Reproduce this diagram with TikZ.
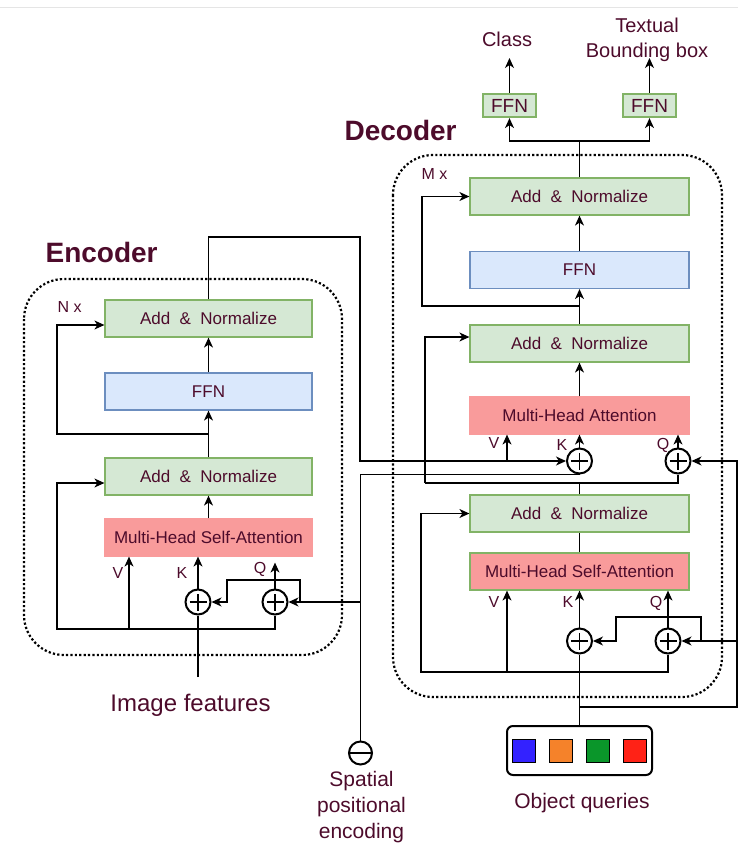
\documentclass[tikz,border=0pt]{standalone}
\usepackage{fontspec}
\setmainfont{Liberation Sans}
\usetikzlibrary{arrows.meta}

\definecolor{txtred}{HTML}{4D0B2B}
\definecolor{addfill}{HTML}{D5E8D4}
\definecolor{adddraw}{HTML}{82B366}
\definecolor{ffnfill}{HTML}{DAE8FC}
\definecolor{ffndraw}{HTML}{6C8EBF}
\definecolor{attfill}{HTML}{F99B9B}
\definecolor{qblue}{HTML}{3322FF}
\definecolor{qorange}{HTML}{F5822A}
\definecolor{qgreen}{HTML}{0A962A}
\definecolor{qred}{HTML}{FF2216}

\newcommand{\pxsize}[2]{\fontsize{#1}{#2}\selectfont}

\begin{document}
\begin{tikzpicture}[x=1pt, y=-1pt, line width=1.2pt,
    >={Stealth[length=10pt,width=9pt,inset=3pt]},
    block/.style={draw, line width=1.2pt, minimum height=37pt, inner sep=0pt, text=txtred, font=\pxsize{17}{20}},
    enc/.style={minimum width=207pt},
    dec/.style={minimum width=219pt},
    addnorm/.style={block, fill=addfill, draw=adddraw},
    ffn/.style={block, fill=ffnfill, draw=ffndraw},
    attn/.style={block, fill=attfill, draw=attfill},
    headffn/.style={draw=adddraw, fill=addfill, line width=2.2pt, minimum width=53pt, minimum height=23pt, inner sep=0pt, text=txtred, font=\pxsize{19}{22}},
    sumnode/.style={circle, draw, line width=2pt, minimum size=25pt, inner sep=0pt,
        path picture={
            \draw[line width=1.1pt] ([xshift=-8.5pt]path picture bounding box.center) -- ([xshift=8.5pt]path picture bounding box.center);
            \draw[line width=1.1pt] ([yshift=-8.5pt]path picture bounding box.center) -- ([yshift=8.5pt]path picture bounding box.center);
        }},
    posnode/.style={circle, draw, line width=2pt, minimum size=23pt, inner sep=0pt,
        path picture={
            \draw[line width=1.1pt] (path picture bounding box.west) -- (path picture bounding box.east);
        }},
    qsq/.style={draw, line width=1.6pt, minimum size=23pt, inner sep=0pt},
    frame/.style={line width=2.2pt, dash pattern=on 2.2pt off 2.2pt, rounded corners=40pt},
    lbl/.style={inner sep=0pt, text=txtred, font=\pxsize{16}{19}}]

\useasboundingbox (0,0) rectangle (738,849);
\draw[black!10, line width=1pt] (0,7) -- (738,7);

% dotted frames round the stacks
\draw[frame] (24,279) rectangle (342,655);
\draw[frame] (393,155) rectangle (722,697);

\node[lbl, font=\pxsize{28}{32}\bfseries, anchor=base west] (EncTitle) at (45,262) {Encoder};
\node[lbl, font=\pxsize{28}{32}\bfseries, anchor=base west] (DecTitle) at (344,140) {Decoder};
\node[lbl, anchor=base west] (EncRepeat) at (57,312) {N x};
\node[lbl, anchor=base west] (DecRepeat) at (421,179) {M x};

% Encoder layer
\node[addnorm, enc] (EncAddNorm2) at (208.5,318.5) {Add~~\&~~Normalize};
\node[ffn, enc] (EncFFN) at (208.5,391.5) {FFN};
\node[addnorm, enc] (EncAddNorm1) at (208.5,476.5) {Add~~\&~~Normalize};
\node[attn, enc] (EncMHSA) at (208.5,537.5) {Multi-Head Self-Attention};
\node[sumnode] (EncK) at (198,602) {};
\node[sumnode] (EncQ) at (275,602) {};
\node[lbl, anchor=base] (EncVLbl) at (118,578) {V};
\node[lbl, anchor=base] (EncKLbl) at (182,578) {K};
\node[lbl, anchor=base] (EncQLbl) at (260,573) {Q};
\coordinate (EncV) at (129,629);
\coordinate (EncRes1) at (57,629);
\coordinate (EncRes2) at (57,434);
\coordinate (EncPosTap) at (300,602);
\coordinate (EncLoop) at (227,580);
\coordinate (EncOut) at (360,237);
\coordinate (ImgIn) at (198,677);
\node[lbl, font=\pxsize{24}{28}, anchor=base] (ImgFeat) at (190.5,711) {Image features};

% Decoder layer
\node[addnorm, dec] (DecAddNorm3) at (579.5,196.5) {Add~~\&~~Normalize};
\node[ffn, dec] (DecFFN) at (579.5,270) {FFN};
\node[addnorm, dec] (DecAddNorm2) at (579.5,343.5) {Add~~\&~~Normalize};
\node[attn, dec] (DecMHA) at (579.5,415.5) {Multi-Head Attention};
\node[addnorm, dec] (DecAddNorm1) at (579.5,513.5) {Add~~\&~~Normalize};
\node[attn, dec, draw=adddraw] (DecMHSA) at (579.5,571.5) {Multi-Head Self-Attention};
\node[sumnode] (DecK2) at (579.5,461) {};
\node[sumnode] (DecQ2) at (678,461) {};
\node[sumnode] (DecK1) at (579.5,641) {};
\node[sumnode] (DecQ1) at (668,641) {};
\node[lbl, anchor=base] (DecVLbl2) at (494,448) {V};
\node[lbl, anchor=base] (DecKLbl2) at (562,450) {K};
\node[lbl, anchor=base] (DecQLbl2) at (663,449) {Q};
\node[lbl, anchor=base] (DecVLbl1) at (494,607) {V};
\node[lbl, anchor=base] (DecKLbl1) at (568,607) {K};
\node[lbl, anchor=base] (DecQLbl1) at (656,607) {Q};
\coordinate (DecV2) at (507,461);
\coordinate (DecV1) at (507,672);
\coordinate (DecRes1) at (421,672);
\coordinate (DecRes2) at (425,483);
\coordinate (DecRes3) at (422,306);
\coordinate (DecPosTap) at (701,641);
\coordinate (DecLoop) at (616,617);

% prediction heads
\coordinate (HeadTap) at (579.5,141);
\node[headffn] (ClassFFN) at (509.5,105.5) {FFN};
\node[headffn] (BoxFFN) at (649.5,105.5) {FFN};
\coordinate (ClassOut) at (509.5,58);
\coordinate (BoxOut) at (649.5,58);
\node[lbl, font=\pxsize{20}{25}, anchor=base] (ClassLbl) at (507,46) {Class};
\node[lbl, font=\pxsize{20}{25}, align=center] (BoxLbl) at (647,40) {Textual\\Bounding box};

% inputs
\node[posnode] (PosEnc) at (360.5,753) {};
\node[lbl, font=\pxsize{21}{26}, align=center] (PosLbl) at (361.5,807.5) {Spatial\\positional\\encoding};
\node[draw, line width=2pt, rounded corners=6pt, minimum width=145pt, minimum height=49pt] (ObjQ) at (579.5,750.5) {};
\foreach \c [count=\i] in {qblue,qorange,qgreen,qred}
    \node[qsq, fill=\c] (Qry\i) at (487+37*\i,751) {};
\node[lbl, font=\pxsize{21}{25}, anchor=base] (ObjLbl) at (582,808) {Object queries};
\coordinate (QryTap) at (579.5,707);
\coordinate (QryRight) at (737,707);

% encoder wiring
\draw[->] (EncMHSA) -- (EncAddNorm1);
\draw[->] (EncAddNorm1) -- (EncFFN);
\draw[->] (EncFFN) -- (EncAddNorm2);
\draw[->] (EncRes2 -| EncFFN) -- (EncRes2) |- ([yshift=-6.5pt]EncAddNorm2.west);
\draw[->] (EncQ.south) |- (EncRes1) |- ([yshift=-6.5pt]EncAddNorm1.west);
\draw[->] (EncV) -- (EncV |- EncMHSA.south);
\draw[->] (EncK.north) -- (EncK.north |- EncMHSA.south);
\draw[->] (EncQ.north) -- ([yshift=-6pt]EncQ.north |- EncMHSA.south);
\draw (ImgIn) -- (EncK.south);
\draw[->] (EncPosTap) |- (EncLoop) |- (EncK.east);
\draw[->] (PosEnc.north |- EncQ) -- (EncQ.east);
\draw (PosEnc.north) |- (DecK2.south);

% encoder memory into cross attention
\draw[->] (EncAddNorm2.north) |- (EncOut) |- (DecK2.west);
\draw[->] (DecV2) -- (DecV2 |- DecMHA.south);

% decoder wiring
\draw (ObjQ.north) -- (DecK1.south);
\draw[->] (QryTap) -- (QryRight) |- (DecQ2.east);
\draw[->] (QryRight |- DecQ1) -- (DecQ1.east);
\draw[->] (DecPosTap) |- (DecLoop) |- (DecK1.east);
\draw[->] (DecK1.north) -- (DecK1.north |- DecMHSA.south);
\draw[->] (DecQ1.north) -- (DecQ1.north |- DecMHSA.south);
\draw[->] (DecV1) -- (DecV1 |- DecMHSA.south);
\draw[->] (DecQ1.south) |- (DecRes1) |- (DecAddNorm1.west);
\draw (DecMHSA) -- (DecAddNorm1);
\draw (DecAddNorm1.north) -- (DecAddNorm1.north |- DecRes2);
\draw[->] (DecRes2) |- ([yshift=6.5pt]DecAddNorm2.west);
\draw (DecRes2) -| (DecQ2.south);
\draw[->] (DecK2.north) -- (DecK2.north |- DecMHA.south);
\draw[->] (DecQ2.north) -- (DecQ2.north |- DecMHA.south);
\draw[->] (DecMHA) -- (DecAddNorm2);
\draw[->] (DecAddNorm2) -- (DecFFN);
\draw[->] (DecFFN) -- (DecAddNorm3);
\draw[->] (DecRes3 -| DecFFN) -- (DecRes3) |- (DecAddNorm3.west);

% heads
\draw (DecAddNorm3.north) -- (HeadTap);
\draw[->] (HeadTap) -| (ClassFFN.south);
\draw[->] (HeadTap) -| (BoxFFN.south);
\draw[->] (ClassFFN.north) -- (ClassOut);
\draw[->] (BoxFFN.north) -- (BoxOut);
\end{tikzpicture}
\end{document}
